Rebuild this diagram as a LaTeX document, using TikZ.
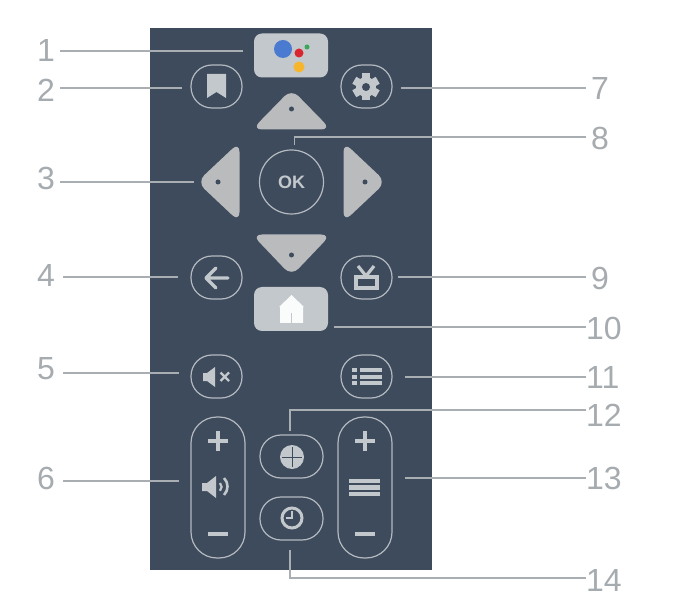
\documentclass[tikz,border=0pt]{standalone}
\usepackage{fontspec}
\setmainfont{Liberation Sans}
\usetikzlibrary{positioning}
\definecolor{panelblue}{HTML}{3E4B5C}
\definecolor{keygray}{HTML}{B9BBBD}
\definecolor{softkey}{HTML}{C3C8CC}
\definecolor{ringgray}{HTML}{B4BAC0}
\definecolor{leadgray}{HTML}{A9AEB3}
\definecolor{numgray}{HTML}{A6ABAF}
\definecolor{assistblue}{HTML}{4A7BD0}
\definecolor{assistred}{HTML}{D9252F}
\definecolor{assistgreen}{HTML}{3DA65A}
\definecolor{assistyellow}{HTML}{F6B52A}
\begin{document}
\begin{tikzpicture}[
  x=1pt, y=-1pt,
  pill/.style={draw=ringgray, line width=1.2pt, rounded corners=21pt, minimum width=51pt, minimum height=43pt, inner sep=0pt},
  long pill/.style={pill, rounded corners=26pt, minimum width=54pt, minimum height=141pt},
  wide pill/.style={pill, minimum width=63pt},
  soft key/.style={fill=softkey, rounded corners=8pt, minimum width=74pt, minimum height=44pt, inner sep=0pt},
  arrow key/.style={fill=keygray, rounded corners=10pt},
  key dot/.style={circle, fill=panelblue, minimum size=5pt, inner sep=0pt},
  lead/.style={draw=leadgray, line width=1.4pt},
  num/.style={font=\fontsize{32}{32}\selectfont, text=numgray, inner sep=0pt},
  left num/.style={num, anchor=east},
  right num/.style={num, anchor=west},
  glyph/.style={draw=softkey, line width=3.2pt},
  bold glyph/.style={draw=softkey, line width=3.6pt}
]
  \useasboundingbox (0,0) rectangle (677,601);
  \fill[panelblue] (149.5,28) rectangle (432,570);

  % Top keys
  \node[soft key] (assist) at (291,55.5) {};
  \fill[assistblue] (283,49) circle (9);
  \fill[assistred] (299,53) circle (4.5);
  \fill[assistgreen] (307,47) circle (2.5);
  \fill[assistyellow] (299,67) circle (5.5);
  \node[pill] (bookmark) at (216.5,86.5) {};
  \fill[softkey] (207,74) -- (226,74) -- (226,98) -- (216.5,92) -- (207,98) -- cycle;
  \node[pill] (gear) at (366.5,86.5) {};
  \foreach \a in {0,60,...,300}
    \fill[softkey, rotate around={\a:(366,87)}] (362,73.5) rectangle (370,80);
  \fill[softkey] (366,87) circle (10);
  \fill[panelblue] (366,87) circle (4);

  % Arrow keys
  \fill[arrow key] (291.5,89) -- (331,129.5) -- (252,129.5) -- cycle;
  \node[key dot] (up dot) at (291.5,109) {};
  \fill[arrow key] (197,182) -- (239.5,142) -- (239.5,222) -- cycle;
  \node[key dot] (left dot) at (218,182) {};
  \fill[arrow key] (386,182) -- (343.5,142) -- (343.5,222) -- cycle;
  \node[key dot] (right dot) at (365,182) {};
  \fill[arrow key] (291.5,276) -- (331,234.5) -- (252,234.5) -- cycle;
  \node[key dot] (down dot) at (291.5,255) {};
  \node[circle, draw=ringgray, line width=1.2pt, minimum size=64pt, inner sep=0pt, font=\bfseries\fontsize{18}{18}\selectfont, text=softkey] (ok) at (291.5,182) {OK};

  % Middle keys
  \node[pill] (back) at (216.5,277.5) {};
  \draw[glyph, line cap=round, line join=round] (228,278) -- (206,278) (216,268) -- (206,278) -- (216,288);
  \node[pill] (tv) at (366.5,277.5) {};
  \draw[glyph] (356,277) rectangle (377,288);
  \draw[glyph] (358,266) -- (366,276) -- (374,266);
  \node[soft key] (home) at (291,309) {};
  \fill[white!92!softkey] (291.5,295) -- (304,307) -- (303,307) -- (303,323) -- (280,323) -- (280,307) -- (279,307) -- cycle;
  \draw[softkey, line width=1pt] (291.5,313) -- (291.5,323);
  \node[pill] (mute) at (216.5,376.5) {};
  \fill[softkey] (203,373) -- (207,373) -- (215,367) -- (215,387) -- (207,381) -- (203,381) -- cycle;
  \draw[softkey, line width=2.4pt] (220.5,372.5) -- (229,381) (229,372.5) -- (220.5,381);
  \node[pill] (menu) at (366.5,376.5) {};
  \foreach \y in {370,376.5,383} {
    \fill[softkey] (352,\y-2) rectangle (357,\y+2);
    \fill[softkey] (360,\y-2) rectangle (382,\y+2);
  }

  % Bottom keys
  \node[long pill] (volume) at (218,487.5) {};
  \draw[bold glyph] (208,441) -- (228,441) (218,431) -- (218,451);
  \fill[softkey] (202,483) -- (207,483) -- (216,476) -- (216,498) -- (207,491) -- (202,491) -- cycle;
  \draw[softkey, line width=2.2pt] (220,483) arc (-45:45:5.5);
  \draw[softkey, line width=2.6pt] (224,478) arc (-45:45:12);
  \draw[bold glyph] (208,534) -- (228,534);
  \node[long pill] (channel) at (365,487.5) {};
  \draw[bold glyph] (355,441) -- (375,441) (365,431) -- (365,451);
  \draw[softkey, line width=4.6pt] (349,481) -- (380,481) (349,487.5) -- (380,487.5) (349,494) -- (380,494);
  \draw[bold glyph] (355,534) -- (375,534);
  \node[wide pill] (source) at (291.5,456.5) {};
  \fill[softkey] (292,457) circle (12);
  \draw[panelblue, line width=0.8pt] (282,457) -- (302,457) (292,447) -- (292,467);
  \node[wide pill] (clock) at (291.5,518.5) {};
  \draw[softkey, line width=3pt] (292,518) circle (10);
  \draw[softkey, line width=1.6pt] (292,511) -- (292,518) -- (286,518);

  % Numbers on the left
  \node[left num] (n1) at (55,50) {1};
  \node[left num] (n2) at (55,90) {2};
  \node[left num] (n3) at (55,178) {3};
  \node[left num] (n4) at (55,275) {4};
  \node[left num] (n5) at (55,369) {5};
  \node[left num] (n6) at (55,478) {6};

  % Numbers on the right
  \node[right num] (n7) at (591,88) {7};
  \node[right num] (n8) at (591,138) {8};
  \node[right num] (n9) at (591,278) {9};
  \node[right num] (n10) at (586,328) {10};
  \node[right num] (n11) at (586,377) {11};
  \node[right num] (n12) at (586,415) {12};
  \node[right num] (n13) at (586,478) {13};
  \node[right num] (n14) at (586,580) {14};

  % Leads
  \draw[lead] ([xshift=5pt, yshift=-1pt]n1.east) -- ([xshift=-11pt, yshift=4.5pt]assist.west);
  \draw[lead] ([xshift=5pt, yshift=2pt]n2.east) -- ([xshift=-8pt, yshift=-1.5pt]bookmark.west);
  \draw[lead] ([xshift=5pt, yshift=-4pt]n3.east) -- ([xshift=-24pt]left dot.center);
  \draw[lead] ([xshift=8pt, yshift=-2pt]n4.east) -- ([xshift=-12pt, yshift=0.5pt]back.west);
  \draw[lead] ([xshift=8pt, yshift=-4pt]n5.east) -- ([xshift=-11pt, yshift=3.5pt]mute.west);
  \draw[lead] ([xshift=8pt, yshift=-3pt]n6.east) -- ([xshift=-11pt, yshift=6.5pt]volume.west);
  \draw[lead] ([xshift=-5pt]n7.west) -- ([xshift=8pt, yshift=-1.5pt]gear.east);
  \draw[lead] ([xshift=-5pt, yshift=1pt]n8.west) -| ([xshift=3pt, yshift=4pt]ok.north);
  \draw[lead] ([xshift=-5pt, yshift=1pt]n9.west) -- ([xshift=5pt, yshift=0.5pt]tv.east);
  \draw[lead] ([yshift=1pt]n10.west) -- ([xshift=6pt, yshift=-18pt]home.east);
  \draw[lead] (n11.west) -- ([xshift=12pt, yshift=-0.5pt]menu.east);
  \draw[lead] ([yshift=5pt]n12.west) -| ([xshift=-1.5pt, yshift=3pt]source.north);
  \draw[lead] (n13.west) -- ([xshift=12pt, yshift=9.5pt]channel.east);
  \draw[lead] ([yshift=2pt]n14.west) -| ([xshift=-1.5pt, yshift=-9pt]clock.south);
\end{tikzpicture}
\end{document}
